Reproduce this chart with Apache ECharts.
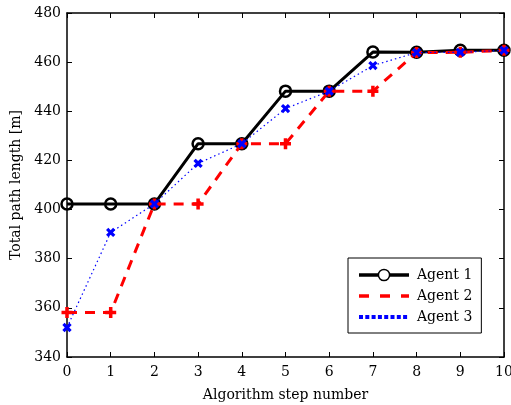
<!DOCTYPE html>
<html><head><meta charset="utf-8">
<script src="https://cdn.jsdelivr.net/npm/echarts@6/dist/echarts.min.js"></script>
<style>html,body{margin:0;padding:0;background:#fff}#c{width:511px;height:405px}</style>
</head><body><div id="c"></div>
<script>
var steps = ['0','1','2','3','4','5','6','7','8','9','10'];
var agent1 = [402.3, 402.3, 402.3, 426.8, 426.8, 448.2, 448.2, 464.1, 464.0, 464.8, 464.8];
var agent2 = [358.1, 358.1, 402.3, 402.3, 426.8, 426.8, 448.2, 448.2, 463.9, 464.0, 464.8];
var agent3 = [352.0, 390.7, 402.3, 418.8, 426.8, 441.1, 448.2, 458.6, 463.9, 464.0, 464.8];
var yTicks = [340, 360, 380, 400, 420, 440, 460, 480];

var FONT = 'DejaVu Serif';
function pairs(arr){ return arr.map(function(v,i){ return [Number(steps[i]), v]; }); }
var PLUS = 'path://M3.4,0 L6.6,0 L6.6,3.4 L10,3.4 L10,6.6 L6.6,6.6 L6.6,10 L3.4,10 L3.4,6.6 L0,6.6 L0,3.4 L3.4,3.4 Z';

var chart = echarts.init(document.getElementById('c'), null, {renderer:'canvas'});
var axisCommon = {
  type:'value', min:0, max:10, interval:1,
  axisLine:{show:true, onZero:false, lineStyle:{color:'#000', width:1.5}},
  axisTick:{show:true, inside:true, length:5, lineStyle:{color:'#000', width:1}},
  splitLine:{show:false}
};
chart.setOption({
  animation:false,
  backgroundColor:'#fff',
  grid:{left:67, right:7, top:13, bottom:48, containLabel:false, outerBoundsMode:'none'},
  xAxis:[
    Object.assign({}, axisCommon, {
      position:'bottom',
      name:'Algorithm step number', nameLocation:'middle', nameGap:31,
      nameTextStyle:{fontFamily:FONT, fontSize:14, color:'#000'},
      axisLabel:{fontFamily:FONT, fontSize:14, color:'#000', margin:8}
    }),
    Object.assign({}, axisCommon, {position:'top', axisLabel:{show:false}})
  ],
  yAxis:[
    Object.assign({}, axisCommon, {
      min:yTicks[0], max:yTicks[yTicks.length-1], interval:20,
      position:'left',
      name:'Total path length [m]', nameLocation:'middle', nameGap:44, nameRotate:90,
      nameTextStyle:{fontFamily:FONT, fontSize:14, color:'#000'},
      axisLabel:{fontFamily:FONT, fontSize:14, color:'#000', margin:6}
    }),
    Object.assign({}, axisCommon, {
      min:yTicks[0], max:yTicks[yTicks.length-1], interval:20,
      position:'right', axisLabel:{show:false}
    })
  ],
  legend:{
    orient:'vertical', left:348, top:258,
    backgroundColor:'#fff', borderColor:'#000', borderWidth:1,
    padding:[10,9,9,9], itemGap:7, itemWidth:50, itemHeight:14,
    textStyle:{fontFamily:FONT, fontSize:14, color:'#000', padding:[0,0,0,3]},
    data:[
      {name:'Agent 1', lineStyle:{width:3.5, color:'#000'}, itemStyle:{color:'#fff', borderColor:'#000', borderWidth:1.5}},
      {name:'Agent 2', lineStyle:{width:3.5, color:'#f00', type:[10,11]}, itemStyle:{opacity:0}},
      {name:'Agent 3', lineStyle:{width:4, color:'#00f', type:[4,2.3]}, itemStyle:{opacity:0}}
    ]
  },
  series:[
    {name:'Agent 1', type:'line', data:pairs(agent1), symbol:'circle', symbolSize:11, color:'#000',
     lineStyle:{color:'#000', width:3}, itemStyle:{color:'rgba(0,0,0,0)', borderColor:'#000', borderWidth:2.5}, z:2},
    {name:'Agent 2', type:'line', data:pairs(agent2), symbol:'none', color:'#f00',
     lineStyle:{color:'#f00', width:3, type:[10,8]}, itemStyle:{color:'#f00'}, z:3},
    {name:'Agent 2 markers', type:'line', data:pairs(agent2), symbol:PLUS, symbolSize:11,
     lineStyle:{opacity:0}, itemStyle:{color:'#f00'}, z:3},
    {name:'Agent 3', type:'line', data:pairs(agent3), symbol:'none', color:'#00f',
     lineStyle:{color:'#00f', width:1.2, type:[1.5,3]}, itemStyle:{color:'#00f'}, z:4},
    {name:'Agent 3 markers', type:'line', data:pairs(agent3), symbol:PLUS, symbolSize:10, symbolRotate:45,
     lineStyle:{opacity:0}, itemStyle:{color:'#00f'}, z:4}
  ]
});
</script></body></html>
